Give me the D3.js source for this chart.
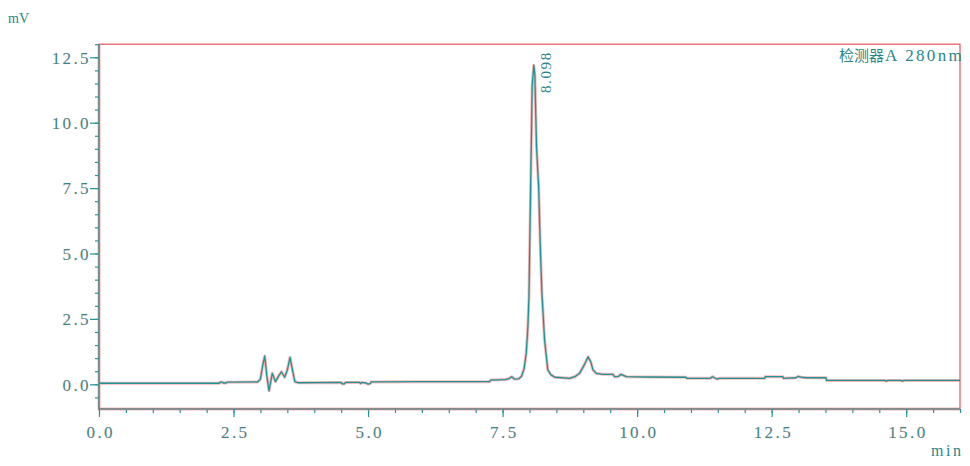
<!DOCTYPE html>
<html>
<head>
<meta charset="utf-8">
<script src="https://cdn.jsdelivr.net/npm/d3@7"></script>
<style>
  html, body { margin: 0; padding: 0; background: #fff; }
  svg { display: block; }
  text { font-family: "Liberation Serif", "Noto Sans CJK SC", serif; }
</style>
</head>
<body>
<svg id="chart" width="970" height="466"></svg>
<script>
// ---- data ----
const times = [0, 2.24, 2.25, 2.29, 2.31, 2.36, 2.38, 2.95, 3.0, 3.04, 3.08, 3.12, 3.16, 3.22, 3.28, 3.34, 3.39, 3.45, 3.50, 3.55, 3.58, 3.64, 3.70,
  4.5, 4.52, 4.56, 4.58, 4.84, 4.86, 4.88, 4.96, 5.0, 5.04, 5.06, 6.0, 7.0, 7.26, 7.28, 7.55, 7.62, 7.67, 7.72, 7.80,
  7.85, 7.90, 7.94, 7.97, 7.99, 8.02, 8.05, 8.08, 8.10, 8.13, 8.17, 8.20, 8.23, 8.28, 8.34, 8.40, 8.47, 8.75, 8.85, 8.93,
  9.02, 9.09, 9.14, 9.18, 9.24, 9.36, 9.55, 9.58, 9.65, 9.70, 9.80, 10.20, 10.91, 10.92, 11.36, 11.40, 11.46, 11.50, 11.52,
  12.37, 12.38, 12.71, 12.72, 12.95, 12.99, 13.05, 13.14, 13.51, 13.52, 14.6, 14.63, 14.66, 14.9, 14.93, 14.96, 16.0];
const signal = [0.04, 0.04, 0.08, 0.08, 0.05, 0.05, 0.08, 0.09, 0.2, 0.7, 1.08, 0.3, -0.25, 0.42, 0.1, 0.32, 0.48, 0.27, 0.55, 1.03, 0.7, 0.1, 0.06,
  0.07, 0.02, 0.02, 0.07, 0.07, 0.03, 0.07, 0.05, 0.01, 0.03, 0.09, 0.1, 0.1, 0.1, 0.16, 0.18, 0.22, 0.29, 0.2, 0.21,
  0.3, 0.6, 1.2, 2.2, 3.35, 7.4, 11.4, 12.2, 11.8, 9.1, 7.55, 5.3, 3.5, 1.7, 0.55, 0.36, 0.27, 0.23, 0.3, 0.42,
  0.75, 1.05, 0.85, 0.55, 0.42, 0.38, 0.38, 0.29, 0.3, 0.38, 0.29, 0.28, 0.27, 0.23, 0.23, 0.29, 0.23, 0.2, 0.23,
  0.23, 0.29, 0.29, 0.23, 0.25, 0.3, 0.27, 0.25, 0.25, 0.15, 0.15, 0.12, 0.15, 0.15, 0.12, 0.15, 0.15];
const peakTimes = [8.098];
const peakLabels = ["8.098"];
const xMajorTicks = [0, 2.5, 5.0, 7.5, 10.0, 12.5, 15.0];
const yMajorTicks = [0, 2.5, 5.0, 7.5, 10.0, 12.5];
const xMinorTicks = d3.range(0, 16.01, 0.5);
const yMinorTicks = d3.range(-0.5, 13.01, 0.5);
const yUnit = "mV";
const xUnit = "min";
const detectorName = "检测器";
const detectorSuffix = "A 280nm";

// ---- layout ----
const svg = d3.select("#chart");
const teal = "#1f9494";
const textCol = "#2a8888";
const red = "#e8606a";
const pink = "rgba(240,120,120,0.55)";
const x = d3.scaleLinear().domain([0, 16]).range([99, 960]);
const y = d3.scaleLinear().domain([-0.944, 13.0]).range([409, 44.2]);

// frame
svg.append("rect")
  .attr("x", x(0)).attr("y", y(13.0))
  .attr("width", x(16) - x(0)).attr("height", y(-0.944) - y(13.0))
  .attr("fill", "none").attr("stroke", red).attr("stroke-width", 1.3);

function styleAxis(g, color) {
  g.selectAll(".domain").remove();
  g.selectAll(".tick line").attr("stroke", color).attr("stroke-width", 1.2);
  g.selectAll("text").attr("fill", textCol).attr("font-size", 17)
    .attr("letter-spacing", "2.4px")
    .attr("stroke", "rgba(240,120,120,0.25)").attr("stroke-width", 0.6);
}

// y minor
svg.append("g").attr("transform", `translate(${x(0)},0)`)
  .call(d3.axisLeft(y).tickValues(yMinorTicks).tickSize(4).tickFormat(""))
  .call(g => styleAxis(g, teal));
// y major
const yg = svg.append("g").attr("transform", `translate(${x(0)},0)`)
  .call(d3.axisLeft(y).tickValues(yMajorTicks).tickSize(9).tickPadding(0).tickFormat(d3.format(".1f")))
  .call(g => styleAxis(g, teal));
yg.selectAll("text").attr("dy", "0.34em").attr("dx", "1px");

// x minor
svg.append("g").attr("transform", `translate(0,${y(-0.944)})`)
  .call(d3.axisBottom(x).tickValues(xMinorTicks).tickSize(4).tickFormat(""))
  .call(g => styleAxis(g, teal));
// x major
const xg = svg.append("g").attr("transform", `translate(0,${y(-0.944)})`)
  .call(d3.axisBottom(x).tickValues(xMajorTicks).tickSize(8).tickPadding(6).tickFormat(d3.format(".1f")))
  .call(g => styleAxis(g, teal));
xg.selectAll("text").attr("dx", "1.2px").attr("dy", "0.9em");

// axis lines left & bottom (teal with pink halo)
const axisPath = `M${x(0)},${y(13.0)}V${y(-0.944)}H${x(16)}`;
svg.append("path").attr("d", axisPath).attr("fill", "none").attr("stroke", pink).attr("stroke-width", 3);
svg.append("path").attr("d", axisPath).attr("fill", "none").attr("stroke", teal).attr("stroke-width", 1.1);

// trace
const pts = times.map((t, i) => [t, signal[i]]);
const line = d3.line().x(d => x(d[0])).y(d => y(d[1]));
svg.append("path").datum(pts).attr("d", line)
  .attr("fill", "none").attr("stroke", pink).attr("stroke-width", 3).attr("stroke-linejoin", "round");
svg.append("path").datum(pts).attr("d", line)
  .attr("fill", "none").attr("stroke", teal).attr("stroke-width", 1.3).attr("stroke-linejoin", "round");

// peak labels (rotated)
peakTimes.forEach((t, i) => {
  svg.append("text")
    .attr("transform", `translate(${x(t) + 16},93) rotate(-90)`)
    .attr("fill", textCol).attr("font-size", 15).attr("letter-spacing", "1.6px")
    .text(peakLabels[i]);
});

// unit labels
svg.append("text").attr("x", 8).attr("y", 23).attr("fill", textCol).attr("font-size", 14).text(yUnit);
svg.append("text").attr("x", 931).attr("y", 456).attr("fill", textCol).attr("font-size", 16)
  .attr("letter-spacing", "2.5px").text(xUnit);

// detector label
const det = svg.append("text").attr("x", 964).attr("y", 61).attr("text-anchor", "end")
  .attr("fill", textCol);
det.append("tspan").attr("font-size", 15).attr("font-family", "Noto Sans CJK SC").text(detectorName);
det.append("tspan").attr("font-size", 17).attr("letter-spacing", "2.3px").attr("dx", 1).text(detectorSuffix);
</script>
</body>
</html>
